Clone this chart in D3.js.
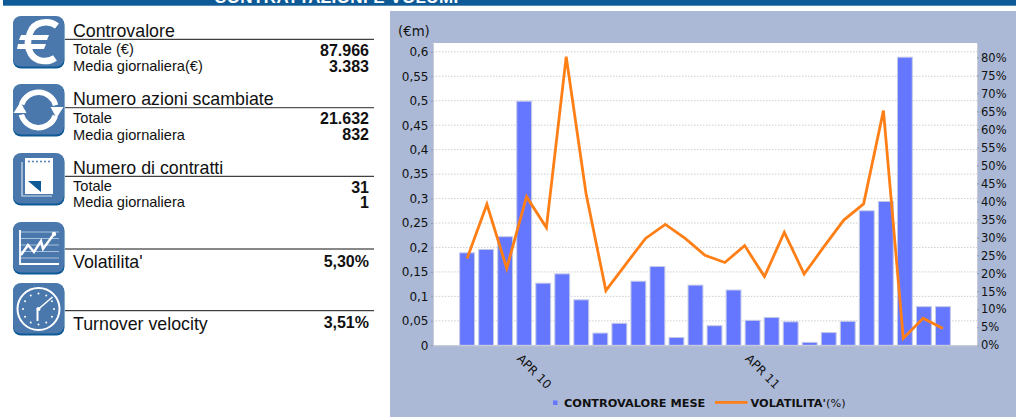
<!DOCTYPE html>
<html>
<head>
<meta charset="utf-8">
<script src="https://cdnjs.cloudflare.com/ajax/libs/d3/7.8.5/d3.min.js"></script>
<style>
  html, body { margin: 0; padding: 0; background: #fff; overflow: hidden; }
  svg { display: block; }
  .side { font-family: "Liberation Sans", Arial, sans-serif; fill: #111; }
  .chart text { font-family: "DejaVu Sans", sans-serif; fill: #111; }
  .axis path { stroke: #c9ccd6; }
  .axis line { stroke: #8e98ae; }
</style>
</head>
<body>
<div id="chart"></div>
<script>
// Chart values
var barDays = d3.range(1, 27);
var barValues = [0.189, 0.196, 0.222, 0.499, 0.127, 0.146, 0.093, 0.025, 0.045, 0.131, 0.161, 0.016, 0.123,
    0.04, 0.113, 0.051, 0.057, 0.048, 0.006, 0.026, 0.049, 0.275, 0.294, 0.589, 0.079, 0.079];
var lineDays = d3.range(1, 26);
var lineValues = [24.1, 39.2, 21.4, 41.3, 32.7, 80.2, 42.2, 15.2, 22.5, 29.7, 33.6, 29.7, 25, 23, 27.7,
    19.1, 31.4, 19.8, 27.4, 34.8, 39.3, 65.2, 1.9, 7.5, 4.7];
var leftTicks = [0, 0.05, 0.1, 0.15, 0.2, 0.25, 0.3, 0.35, 0.4, 0.45, 0.5, 0.55, 0.6];
var rightTicks = [0, 5, 10, 15, 20, 25, 30, 35, 40, 45, 50, 55, 60, 65, 70, 75, 80];
var monthDays = [4, 16];
var monthLabels = ["APR 10", "APR 11"];

// Left hand summary table
var rowTitles = ["Controvalore", "Numero azioni scambiate", "Numero di contratti", "Volatilita'", "Turnover velocity"];
var rowLabels = [["Totale (€)", "Media giornaliera(€)"], ["Totale", "Media giornaliera"], ["Totale", "Media giornaliera"], [], []];
var rowNumbers = [["87.966", "3.383"], ["21.632", "832"], ["31", "1"], ["5,30%"], ["3,51%"]];

var svg = d3.select("#chart").append("svg")
    .attr("width", 1016)
    .attr("height", 417);

// Title banner, cut off by the top of the page
svg.append("rect").attr("x", 3).attr("y", 0).attr("width", 1013).attr("height", 5.7).attr("fill", "#0d5a97");
svg.append("text")
    .attr("class", "side")
    .attr("x", 214).attr("y", 2.5)
    .attr("font-size", 17).attr("font-weight", "bold")
    .attr("letter-spacing", 0.4)
    .style("fill", "#fff")
    .text("CONTRATTAZIONI E VOLUMI");

// Icons, drawn in a 52x52 box
var iconTop = [16, 84, 153, 222, 283];
var lineY = [39.3, 107.7, 176.3, 249, 310.7];
var titleY = [36.7, 105, 174, 268.3, 330];
var labelY = [[54.3, 70.7], [123, 139.5], [191, 206.7], [], []];
var numberY = [[55.7, 71.7], [124, 140], [192.7, 208], [266.7], [328.3]];

function iconBox(top) {
    var g = svg.append("g").attr("transform", "translate(13," + top + ")");
    g.append("rect").attr("y", 1).attr("width", 51.5).attr("height", 51.5).attr("rx", 8).attr("fill", "#0d5a97");
    g.append("rect").attr("width", 51).attr("height", 50.5).attr("rx", 8).attr("fill", "#4a78ad");
    return g;
}

function drawEuro(g) {
    g.append("path").attr("fill", "none").attr("stroke", "#fff").attr("stroke-width", 6.5)
        .attr("d", "M44 10 C36 4 21 5 17 17 C14 26 14 31 18 38 C23 46 35 47 42 42");
    g.append("path").attr("fill", "#fff").attr("d", "M8 19 H36 L34 24 H6 Z M5 28 H33 L31 33 H4 Z");
}

function drawArrows(g) {
    var arc = d3.arc().innerRadius(15).outerRadius(20.5);
    var c = g.append("g").attr("transform", "translate(25.5,26)");
    c.append("path").attr("fill", "#fff").attr("d", arc({ startAngle: -1.25, endAngle: 1.3 }));
    c.append("path").attr("fill", "#fff").attr("d", arc({ startAngle: 1.9, endAngle: 4.45 }));
    c.append("path").attr("fill", "#fff").attr("d", "M12 -3 L25 -3 L18 8 Z");
    c.append("path").attr("fill", "#fff").attr("d", "M-12 3 L-25 3 L-18 -8 Z");
}

function drawNotes(g) {
    g.append("path").attr("fill", "none").attr("stroke", "#d5e2ef").attr("stroke-width", 1.2)
        .attr("d", "M9 9 V43 H39");
    g.append("rect").attr("x", 12).attr("y", 5).attr("width", 28).attr("height", 36).attr("fill", "#fff");
    g.selectAll("circle.hole").data(d3.range(6)).enter().append("circle")
        .attr("r", 0.9).attr("cy", 8.5).attr("fill", "#3d6fa8")
        .attr("cx", function (d) { return 16 + d * 4; });
    g.append("path").attr("fill", "#0d5a97").attr("d", "M15 28 H28 V39 Z");
}

function drawTrend(g) {
    g.selectAll("line.row").data(d3.range(6)).enter().append("line")
        .attr("x1", 7).attr("x2", 46).attr("stroke", "#a9c1dc").attr("stroke-width", 1)
        .attr("y1", function (d) { return 10 + d * 6.5; })
        .attr("y2", function (d) { return 10 + d * 6.5; });
    g.append("path").attr("fill", "none").attr("stroke", "#fff").attr("stroke-width", 1.8)
        .attr("d", "M7 8 V42 H46");
    g.append("path").attr("fill", "none").attr("stroke", "#fff").attr("stroke-width", 2.4)
        .attr("d", "M8 33 L15 23 L21 30 L28 19 L30 27 L41 12");
    g.append("circle").attr("cx", 41).attr("cy", 12).attr("r", 2.2).attr("fill", "#fff");
}

function drawClock(g) {
    var c = g.append("g").attr("transform", "translate(25.5,26)");
    c.append("circle").attr("r", 21).attr("fill", "none").attr("stroke", "#fff").attr("stroke-width", 2);
    c.selectAll("circle.mark").data(d3.range(12)).enter().append("circle")
        .attr("r", 1).attr("fill", "#fff")
        .attr("cx", function (d) { return 15.5 * Math.sin(d * Math.PI / 6); })
        .attr("cy", function (d) { return -15.5 * Math.cos(d * Math.PI / 6); });
    c.append("path").attr("fill", "none").attr("stroke", "#fff").attr("stroke-width", 1.6)
        .attr("d", "M0 0 L14 -12");
    c.append("path").attr("fill", "none").attr("stroke", "#fff").attr("stroke-width", 2)
        .attr("d", "M-1 12 L-1 -1");
    c.append("circle").attr("r", 2).attr("fill", "#fff");
}

var iconDrawers = [drawEuro, drawArrows, drawNotes, drawTrend, drawClock];

rowTitles.forEach(function (title, i) {
    iconDrawers[i](iconBox(iconTop[i]));

    svg.append("line")
        .attr("x1", 65).attr("x2", 374)
        .attr("y1", lineY[i]).attr("y2", lineY[i])
        .attr("stroke", i === 1 ? "#555" : "#111")
        .attr("stroke-width", i === 1 ? 1.3 : 1);

    svg.append("text").attr("class", "side")
        .attr("x", 73).attr("y", titleY[i])
        .attr("font-size", 17.8)
        .text(title);

    rowLabels[i].forEach(function (label, j) {
        svg.append("text").attr("class", "side")
            .attr("x", 73).attr("y", labelY[i][j])
            .attr("font-size", 14.6)
            .text(label);
    });

    rowNumbers[i].forEach(function (num, j) {
        svg.append("text").attr("class", "side")
            .attr("x", 369).attr("y", numberY[i][j])
            .attr("text-anchor", "end")
            .attr("font-size", 16).attr("font-weight", "bold")
            .text(num);
    });
});

// Right hand chart panel
var plot = { left: 433, right: 977, top: 43, bottom: 345.3 };
var chart = svg.append("g").attr("class", "chart");

chart.append("rect").attr("x", 390).attr("y", 11).attr("width", 626).attr("height", 406).attr("fill", "#abb9d6");
chart.append("rect")
    .attr("x", plot.left).attr("y", plot.top)
    .attr("width", plot.right - plot.left).attr("height", plot.bottom - plot.top)
    .attr("fill", "#fff");

var x = d3.scaleBand()
    .domain(barDays)
    .range([plot.left, plot.right])
    .paddingInner(0.22)
    .paddingOuter(1.4);

// The line has one point less than the bars but runs from the first bar to the last
var xLine = d3.scalePoint()
    .domain(lineDays)
    .range([x(barDays[0]) + x.bandwidth() / 2, x(barDays[barDays.length - 1]) + x.bandwidth() / 2]);

var y = d3.scaleLinear().domain([0, 0.618]).range([plot.bottom, plot.top]);
var yRight = d3.scaleLinear().domain([0, 84]).range([plot.bottom, plot.top]);

// Grid
chart.selectAll("line.grid")
    .data(leftTicks.slice(1))
    .enter().append("line")
    .attr("x1", plot.left).attr("x2", plot.right)
    .attr("y1", function (d) { return y(d); })
    .attr("y2", function (d) { return y(d); })
    .attr("stroke", "#cfcfcf")
    .attr("stroke-dasharray", "1.5,1.5");

// Bars
chart.selectAll("rect.bar")
    .data(barValues)
    .enter().append("rect")
    .attr("x", function (d, i) { return x(barDays[i]); })
    .attr("y", function (d) { return y(d); })
    .attr("width", x.bandwidth())
    .attr("height", function (d) { return y(0) - y(d); })
    .attr("fill", "#6677ff")
    .attr("stroke", "#c3c9e6")
    .attr("stroke-width", 1);

// Line
var line = d3.line()
    .x(function (d, i) { return xLine(lineDays[i]); })
    .y(function (d) { return yRight(d); });

chart.append("path")
    .datum(lineValues)
    .attr("d", line)
    .attr("fill", "none")
    .attr("stroke", "#ff7f17")
    .attr("stroke-width", 2.8);

// Axes
var commaFormat = function (d) { return String(d).replace(".", ","); };

var leftAxis = chart.append("g")
    .attr("class", "axis")
    .attr("transform", "translate(" + plot.left + ",0)")
    .call(d3.axisLeft(y).tickValues(leftTicks).tickFormat(commaFormat).tickSize(2).tickSizeOuter(0));
leftAxis.selectAll("text").attr("font-size", 12).attr("x", -4.5);

var rightAxis = chart.append("g")
    .attr("class", "axis")
    .attr("transform", "translate(" + plot.right + ",0)")
    .call(d3.axisRight(yRight).tickValues(rightTicks).tickFormat(function (d) { return d + "%"; }).tickSize(2).tickSizeOuter(0));
rightAxis.selectAll("text").attr("font-size", 11.5).attr("x", 4);
rightAxis.select(".domain").attr("stroke", "none");

var bottomAxis = chart.append("g")
    .attr("class", "axis")
    .attr("transform", "translate(0," + plot.bottom + ")")
    .call(d3.axisBottom(x).tickValues(monthDays).tickFormat(function (d, i) { return monthLabels[i]; }).tickSize(0).tickSizeOuter(0));
bottomAxis.selectAll("text")
    .attr("font-size", 12)
    .attr("text-anchor", "start")
    .attr("dy", 0)
    .attr("y", 0)
    .attr("transform", "translate(-8,14) rotate(45)");

chart.append("text").attr("x", 398).attr("y", 36).attr("font-size", 13.3).text("(€m)");

// Legend
chart.append("rect").attr("x", 553).attr("y", 400.5).attr("width", 4.5).attr("height", 4.5).attr("fill", "#6677ff");
chart.append("text").attr("x", 564).attr("y", 407).attr("font-size", 11.3).attr("font-weight", "bold").text("CONTROVALORE MESE");
chart.append("line").attr("x1", 715).attr("x2", 747.5).attr("y1", 402.3).attr("y2", 402.3)
    .attr("stroke", "#ff7f17").attr("stroke-width", 2.8);
var volLabel = chart.append("text").attr("x", 750.5).attr("y", 407).attr("font-size", 11.3);
volLabel.append("tspan").attr("font-weight", "bold").text("VOLATILITA'");
volLabel.append("tspan").text("(%)");
</script>
</body>
</html>
